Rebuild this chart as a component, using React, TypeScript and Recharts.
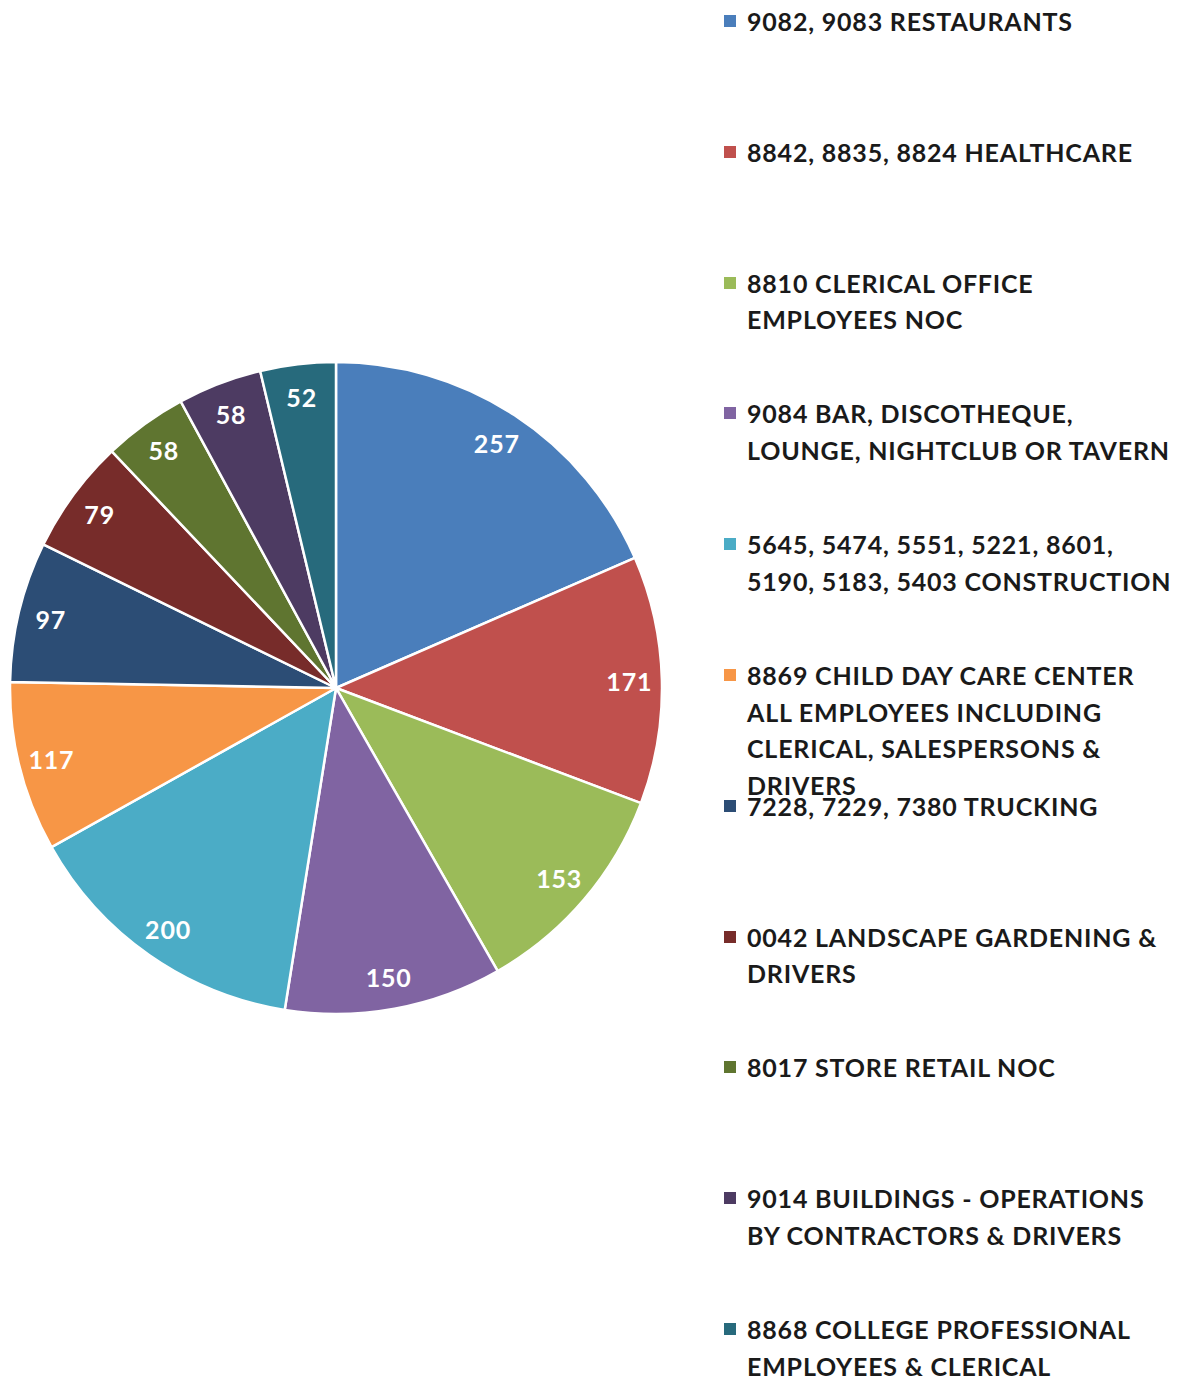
import { PieChart, Pie, Cell, Legend } from "recharts"

const names = [
    "9082, 9083 RESTAURANTS",
    "8842, 8835, 8824 HEALTHCARE",
    "8810 CLERICAL OFFICE\nEMPLOYEES NOC",
    "9084 BAR, DISCOTHEQUE,\nLOUNGE, NIGHTCLUB OR TAVERN",
    "5645, 5474, 5551, 5221, 8601,\n5190, 5183, 5403 CONSTRUCTION",
    "8869 CHILD DAY CARE CENTER\nALL EMPLOYEES INCLUDING\nCLERICAL, SALESPERSONS &\nDRIVERS",
    "7228, 7229, 7380 TRUCKING",
    "0042 LANDSCAPE GARDENING &\nDRIVERS",
    "8017 STORE RETAIL NOC",
    "9014 BUILDINGS - OPERATIONS\nBY CONTRACTORS & DRIVERS",
    "8868 COLLEGE PROFESSIONAL\nEMPLOYEES & CLERICAL",
]

const counts = [257, 171, 153, 150, 200, 117, 97, 79, 58, 58, 52]

const colors = [
    "#4A7EBB", "#C0504D", "#9BBB59", "#8064A2", "#4BACC6", "#F79646",
    "#2C4D75", "#772C2A", "#5F7530", "#4D3B62", "#276A7C",
]

const data = names.map((name, i) => ({ name, value: counts[i] }))

const FONT = "Lato, 'Open Sans', sans-serif"
const RAD = Math.PI / 180

function SliceLabel(props: any) {
    const { cx, cy, midAngle, outerRadius, value } = props
    const r = outerRadius * 0.9
    const x = cx + r * Math.cos(-midAngle * RAD)
    const y = cy + r * Math.sin(-midAngle * RAD)
    return (
        <text
            x={x}
            y={y}
            fill="#fff"
            textAnchor="middle"
            dominantBaseline="central"
            fontFamily={FONT}
            fontWeight={700}
            fontSize={25}
            letterSpacing={0.8}
        >
            {value}
        </text>
    )
}

function LegendList() {
    return (
        <div style={{ position: "relative", width: 460, height: 1378 }}>
            {data.map((d, i) => (
                <div
                    key={d.name}
                    style={{ position: "absolute", left: 0, top: i * 130.8, display: "flex" }}
                >
                    <div
                        style={{
                            width: 12,
                            height: 12,
                            background: colors[i],
                            marginTop: 12,
                            marginRight: 11,
                            flexShrink: 0,
                        }}
                    />
                    <div
                        style={{
                            fontFamily: FONT,
                            fontWeight: 700,
                            fontSize: 25,
                            letterSpacing: 0.8,
                            lineHeight: "36.5px",
                            color: "#1a1a1a",
                            whiteSpace: "pre",
                        }}
                    >
                        {d.name}
                    </div>
                </div>
            ))}
        </div>
    )
}

export default function App() {
    return (
        <div style={{ position: "absolute", left: 0, top: 0, background: "#fff" }}>
            <PieChart width={1181} height={1378} margin={{ top: 0, right: 0, bottom: 0, left: 0 }}>
                <Pie
                    data={data}
                    dataKey="value"
                    nameKey="name"
                    cx={336}
                    cy={688}
                    outerRadius={326}
                    startAngle={90}
                    endAngle={-270}
                    stroke="#fff"
                    strokeWidth={2.5}
                    label={SliceLabel}
                    labelLine={false}
                    isAnimationActive={false}
                >
                    {data.map((d, i) => (
                        <Cell key={d.name} fill={colors[i]} />
                    ))}
                </Pie>
                <Legend
                    layout="vertical"
                    content={() => <LegendList />}
                    wrapperStyle={{ position: "absolute", left: 724, top: 3, width: 460 }}
                />
            </PieChart>
        </div>
    )
}
